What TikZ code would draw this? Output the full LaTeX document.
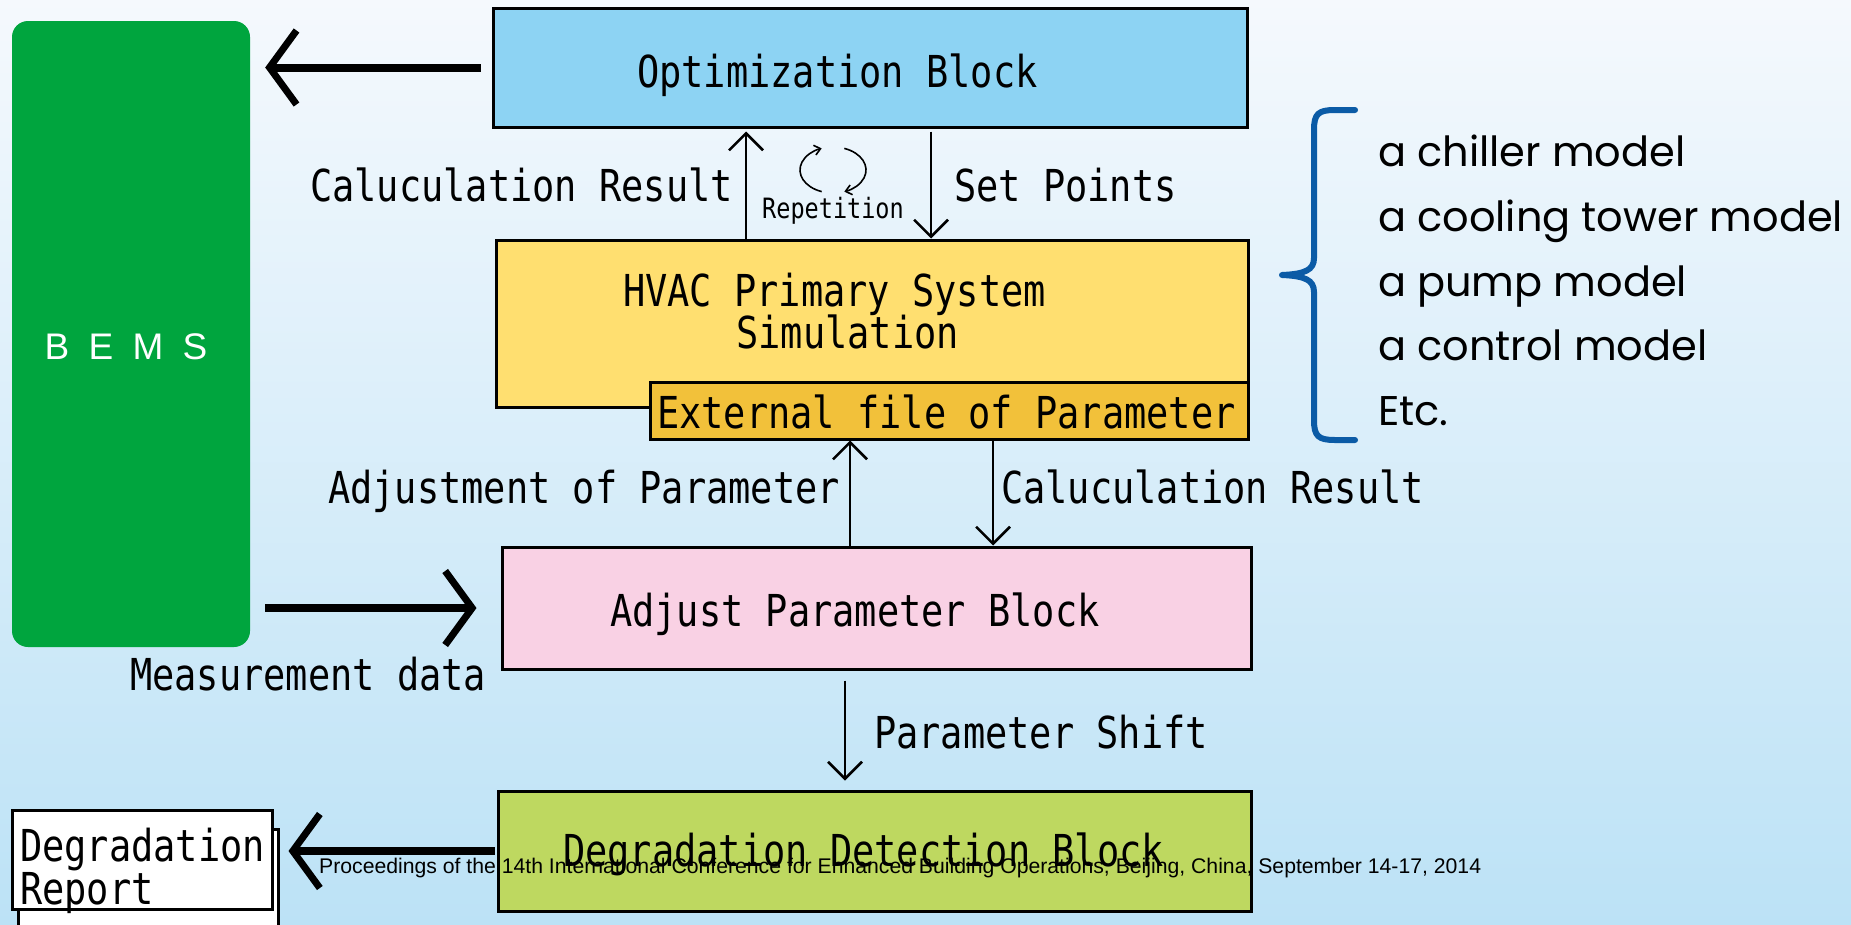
\documentclass[tikz,border=0pt]{standalone}
\usepackage{fontspec}
\usetikzlibrary{arrows.meta,calc}
\newfontfamily\gothic[FakeStretch=0.84]{DejaVu Sans Mono}
\newfontfamily\listfont{Poppins}
\newfontfamily\arialf{Liberation Sans}
\definecolor{bgtop}{RGB}{245,249,253}
\definecolor{bgbot}{RGB}{188,226,246}
\definecolor{bemsgreen}{RGB}{0,165,62}
\definecolor{optblue}{RGB}{141,211,243}
\definecolor{hvacyellow}{RGB}{255,223,112}
\definecolor{extgold}{RGB}{242,193,58}
\definecolor{adjpink}{RGB}{249,209,228}
\definecolor{degreen}{RGB}{190,216,96}
\definecolor{braceblue}{RGB}{11,91,166}
\begin{document}
\begin{tikzpicture}[x=1pt,y=-1pt,
  blk/.style={draw=black, line width=3pt, inner sep=0pt},
  lbl/.style={inner sep=0pt, anchor=base west, font=\gothic\fontsize{44}{44}\selectfont},
  smalllbl/.style={inner sep=0pt, anchor=base west, font=\gothic\fontsize{28}{28}\selectfont},
  listlbl/.style={inner sep=0pt, anchor=base west, font=\listfont\fontsize{41.5}{42}\selectfont},
  thinarr/.style={line width=2.5pt, -{Straight Barb[length=17pt,width=34pt]}},
  bigarr/.style={line width=8pt, -{Straight Barb[length=27pt,width=74pt,line width=7pt]}},
]
\useasboundingbox (0,0) rectangle (1851,924);
\shade[top color=bgtop,bottom color=bgbot] (0,0) rectangle (1851,924);

% BEMS
\node[fill=bemsgreen, rounded corners=16pt, minimum width=238pt, minimum height=626pt, inner sep=0pt] (bems) at (131,334) {};
\node[inner sep=0pt, anchor=base, text=white, font=\arialf\fontsize{37}{37}\selectfont] (bemstext) at (126,359) {B\hspace{0.52em}E\hspace{0.52em}M\hspace{0.52em}S};

% blocks
\node[blk, fill=optblue, minimum width=754pt, minimum height=119pt] (opt) at (870,67.5) {};
\node[blk, fill=hvacyellow, minimum width=752pt, minimum height=167pt] (hvac) at (872,323.5) {};
\node[blk, fill=extgold, minimum width=598pt, minimum height=57pt] (ext) at (949,410.5) {};
\node[blk, fill=adjpink, minimum width=749pt, minimum height=122pt] (adj) at (876.5,608) {};
\node[blk, fill=degreen, minimum width=753pt, minimum height=120pt] (deg) at (874.5,851) {};
\node[blk, fill=white, minimum width=260pt, minimum height=99pt] (repshadow) at (148,879) {};
\node[blk, fill=white, minimum width=260pt, minimum height=99pt] (report) at (142,859.5) {};

% block texts
\node[lbl] (optt) at (637,87) {Optimization Block};
\node[lbl] (hvact1) at (623,306) {HVAC Primary System};
\node[lbl] (hvact2) at (714,348) {\phantom{S}Simulation};
\node[lbl] (extt) at (657,428) {External file of Parameter};
\node[lbl] (adjt) at (610,626) {Adjust Parameter Block};
\node[lbl] (degt) at (563,866) {Degradation Detection Block};
\node[lbl] (rept1) at (20,861) {Degradation};
\node[lbl] (rept2) at (20,904) {Report};

% connector labels
\node[lbl] (calc1) at (310,201) {Caluculation Result};
\node[lbl] (setp) at (954,201) {Set Points};
\node[smalllbl] (rep) at (762,218) {Repetition};
\node[lbl] (adjp) at (328,503) {Adjustment of Parameter};
\node[lbl] (calc2) at (1001,503) {Caluculation Result};
\node[lbl] (meas) at (130,690) {Measurement data};
\node[lbl] (pshift) at (874,748) {Parameter Shift};

% thick arrows
\draw[bigarr, shorten <=11pt, shorten >=15pt] (opt.west) -- (opt.west -| bems.east);
\draw[bigarr, shorten <=15pt, shorten >=24pt] (adj.west -| bems.east) -- (adj.west);
\draw[bigarr, shorten <=2pt, shorten >=15pt] (deg.west) -- (deg.west -| report.east);

% thin arrows
\coordinate (xa) at (746,0);
\coordinate (xb) at (931,0);
\coordinate (xc) at (850,0);
\coordinate (xd) at (993,0);
\coordinate (xe) at (845,0);
\draw[thinarr, shorten >=3pt] (xa |- hvac.north) -- (xa |- opt.south);
\draw[thinarr, shorten <=3pt] (xb |- opt.south) -- (xb |- hvac.north);
\draw[thinarr] (xc |- adj.north) -- (xc |- ext.south);
\draw[thinarr] (xd |- ext.south) -- (xd |- adj.north);
\draw[thinarr, shorten <=10pt, shorten >=9pt] (xe |- adj.south) -- (xe |- deg.north);

% repetition icon
\draw[line width=1.6pt, -{Straight Barb[length=6pt,width=10pt]}] (821.7,191.6) arc[start angle=110, end angle=250, x radius=33, y radius=23];
\draw[line width=1.6pt, -{Straight Barb[length=6pt,width=10pt]}] (844.3,148.4) arc[start angle=-70, end angle=70, x radius=33, y radius=23];

% brace
\draw[braceblue, line width=6pt, line cap=round, line join=round]
  (1355,110) -- (1335,110) .. controls (1318,110) and (1314,114) .. (1314,130)
  -- (1314,258) .. controls (1314,270) and (1305,274) .. (1282,275)
  .. controls (1305,276) and (1314,280) .. (1314,292)
  -- (1314,420) .. controls (1314,436) and (1318,440) .. (1335,440) -- (1355,440);

% list
\node[listlbl] (l1) at (1378,166) {a chiller model};
\node[listlbl] (l2) at (1378,231) {a cooling tower model};
\node[listlbl] (l3) at (1378,296) {a pump model};
\node[listlbl] (l4) at (1378,360) {a control model};
\node[listlbl] (l5) at (1378,425) {Etc.};

% footer
\node[inner sep=0pt, anchor=base west, font=\arialf\fontsize{21.2}{22}\selectfont] (footer) at (319,873) {Proceedings of the 14th International Conference for Enhanced Building Operations, Beijing, China, September 14-17, 2014};
\end{tikzpicture}
\end{document}
